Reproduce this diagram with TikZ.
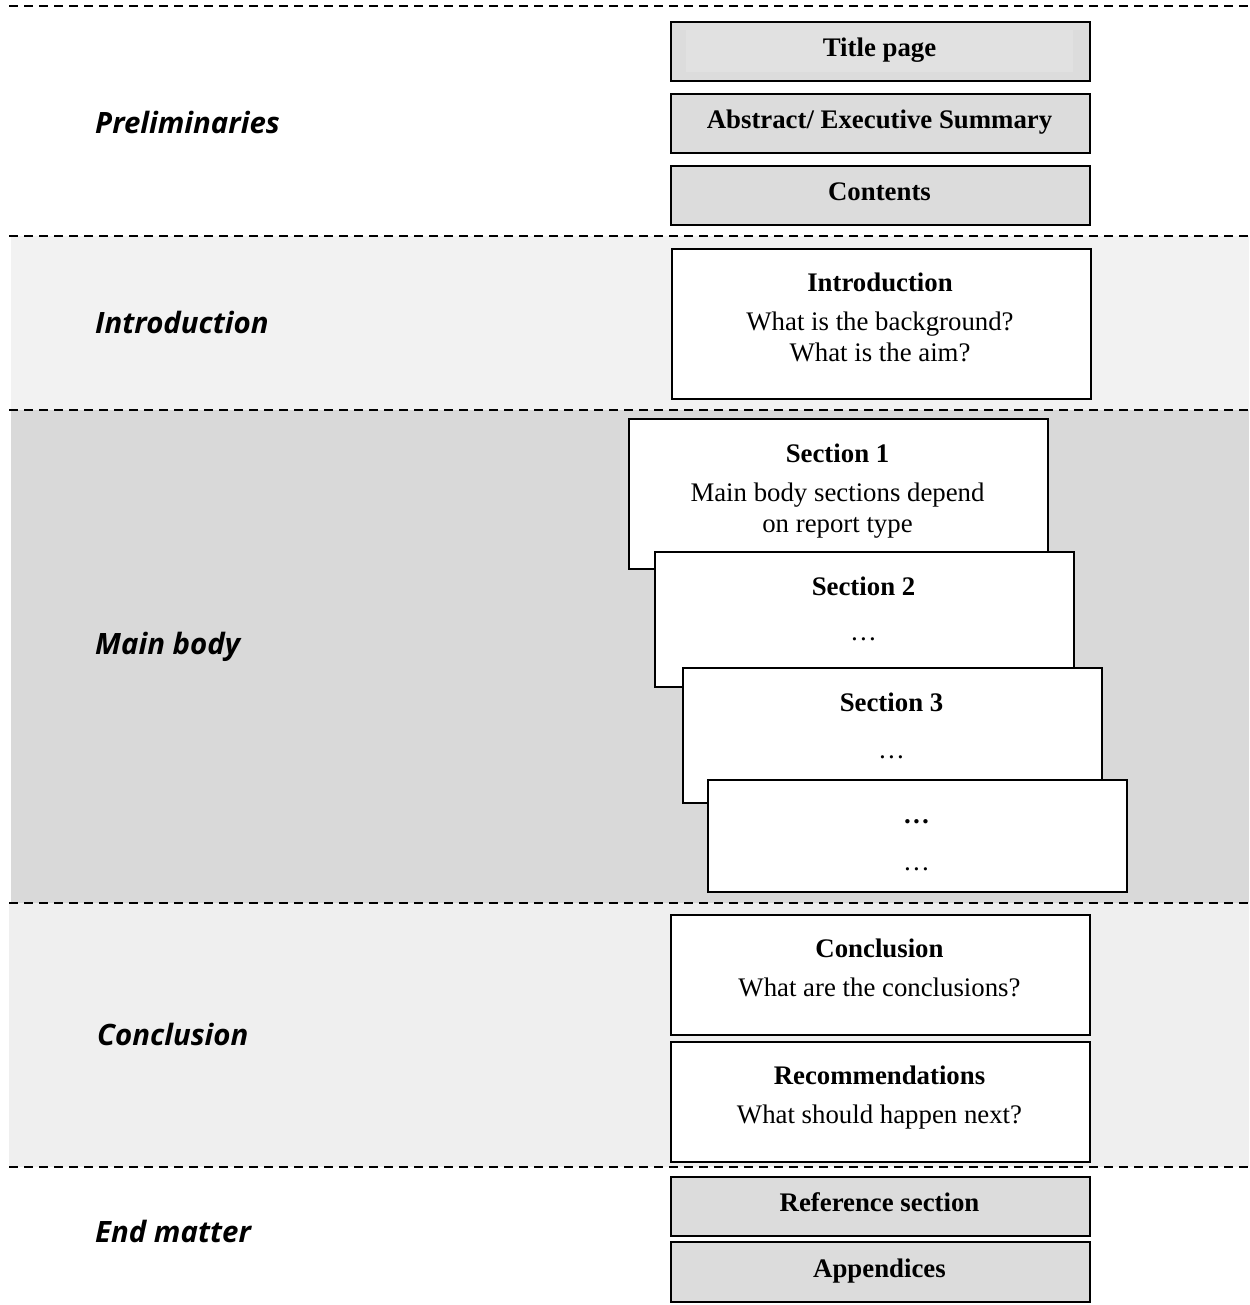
\documentclass[tikz,border=0pt]{standalone}
\usepackage{fontspec}
\setmainfont{Liberation Serif}
\newfontfamily\labelfont{Open Sans}
\definecolor{bandlight}{HTML}{F2F2F2}
\definecolor{bandmid}{HTML}{D9D9D9}
\definecolor{bandconc}{HTML}{EFEFEF}
\definecolor{boxgray}{HTML}{DCDCDC}
\definecolor{boxinner}{HTML}{E1E1E1}
\begin{document}
\begin{tikzpicture}[x=1pt,y=-1pt,
  divider/.style={line width=1.8pt, dash pattern=on 9pt off 6pt},
  pagebox/.style={draw, line width=2pt, fill=white, minimum width=419pt,
    inner sep=0pt, anchor=north west},
  graybox/.style={pagebox, fill=boxgray},
  headtxt/.style={anchor=base, inner sep=0pt, font=\fontsize{26.8}{30}\selectfont\bfseries},
  bodytxt/.style={anchor=base, inner sep=0pt, font=\fontsize{26.8}{30}\selectfont},
  parttxt/.style={anchor=base west, inner sep=0pt, font=\labelfont\fontsize{29.4}{32}\selectfont\bfseries\itshape}]
\useasboundingbox (0,0) rectangle (1249,1305);

% shaded bands
\fill[bandlight] (11,236) rectangle (1249,410);
\fill[bandmid] (11,410) rectangle (1249,903);
\fill[bandconc] (9,903) rectangle (1249,1167);

% dashed dividers
\foreach \yy in {6,236,410,903,1167}
  \draw[divider] (9,\yy) -- (1249,\yy);

% part labels
\node[parttxt] (lprelim) at (95,134) {Preliminaries};
\node[parttxt] (lintro) at (95,334) {Introduction};
\node[parttxt] (lmain) at (95,654) {Main body};
\node[parttxt] (lconc) at (97,1045) {Conclusion};
\node[parttxt] (lend) at (95,1242) {End matter};

% preliminaries
\node[graybox, minimum height=59pt] (title) at (670,21) {};
\fill[boxinner] (686,30) rectangle (1073,72);
\node[headtxt] (ttitle) at (879.5,57) {Title page};
\node[graybox, minimum height=59pt] (abstract) at (670,93) {};
\node[headtxt] (tabstract) at (879.5,128.5) {Abstract/ Executive Summary};
\node[graybox, minimum height=59pt] (contents) at (670,165) {};
\node[headtxt] (tcontents) at (879.5,200.5) {Contents};

% introduction
\node[pagebox, minimum height=150pt] (intro) at (671,248) {};
\node[headtxt] (tintro) at (880,292) {Introduction};
\node[bodytxt] (tintroa) at (880,330) {What is the background?};
\node[bodytxt] (tintrob) at (880,361) {What is the aim?};

% main body: stacked section pages
\node[pagebox, minimum height=150pt] (sec1) at (628,418) {};
\node[headtxt] (tsec1) at (837.5,462) {Section 1};
\node[bodytxt] (tsec1a) at (837.5,501) {Main body sections depend};
\node[bodytxt] (tsec1b) at (837.5,532) {on report type};

\node[pagebox, minimum height=135pt] (sec2) at (654,551) {};
\node[headtxt] (tsec2) at (863.5,595) {Section 2};
\node[bodytxt] (tsec2a) at (863.5,640) {…};

\node[pagebox, minimum height=135pt] (sec3) at (682,667) {};
\node[headtxt] (tsec3) at (891.5,711) {Section 3};
\node[bodytxt] (tsec3a) at (891.5,758) {…};

\node[pagebox, minimum height=112pt] (secn) at (707,779) {};
\node[headtxt] (tsecn) at (916.5,823) {…};
\node[bodytxt] (tsecna) at (916.5,870) {…};

% conclusion
\node[pagebox, minimum height=120pt] (concl) at (670,914) {};
\node[headtxt] (tconcl) at (879.5,957) {Conclusion};
\node[bodytxt] (tconcla) at (879.5,996) {What are the conclusions?};
\node[pagebox, minimum height=120pt] (recom) at (670,1041) {};
\node[headtxt] (trecom) at (879.5,1084) {Recommendations};
\node[bodytxt] (trecoma) at (879.5,1123) {What should happen next?};

% end matter
\node[graybox, minimum height=59pt] (refs) at (670,1176) {};
\node[headtxt] (trefs) at (879.5,1211) {Reference section};
\node[graybox, minimum height=60pt] (appx) at (670,1241) {};
\node[headtxt] (tappx) at (879.5,1277) {Appendices};
\end{tikzpicture}
\end{document}
